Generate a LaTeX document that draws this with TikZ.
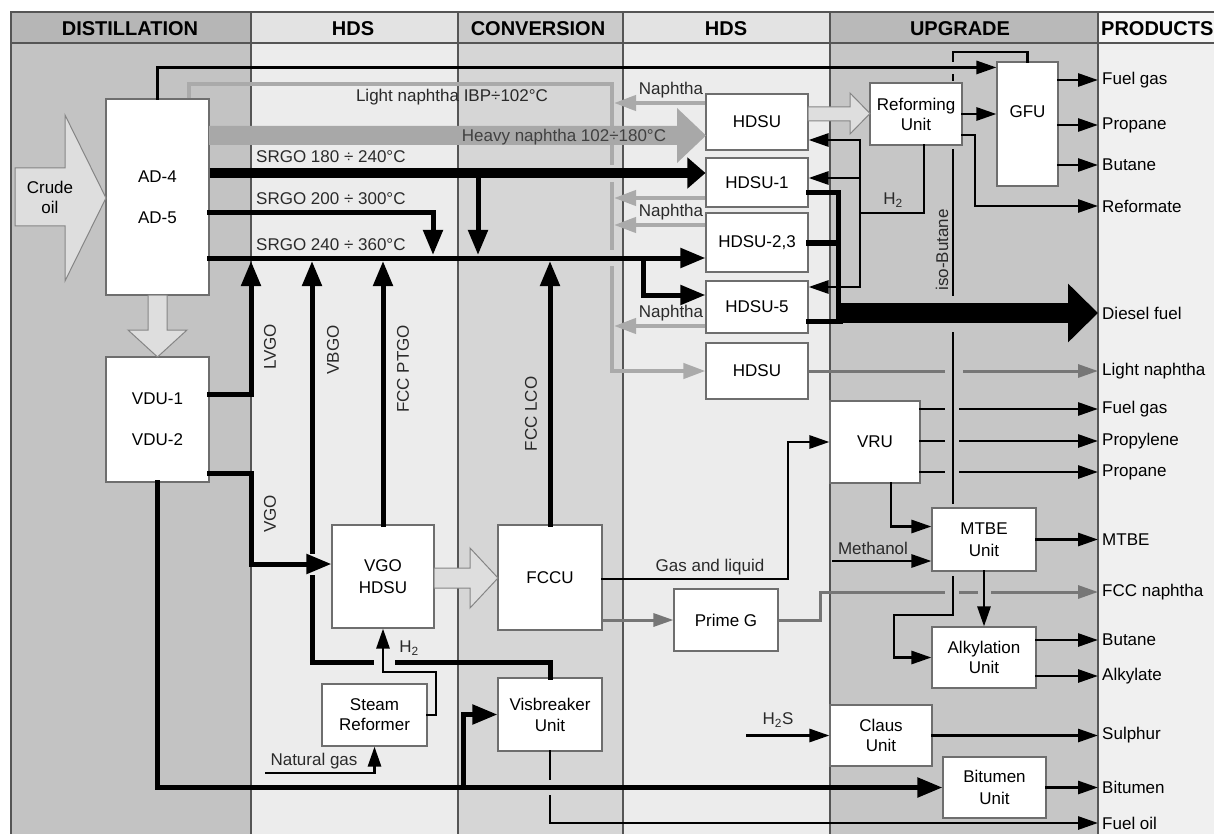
\documentclass[tikz,border=0pt]{standalone}
\usepackage{fontspec}
\setmainfont{Liberation Sans}
\usetikzlibrary{arrows.meta,calc}
\definecolor{cDist}{HTML}{C3C3C3}
\definecolor{cDistH}{HTML}{B6B6B6}
\definecolor{cHds}{HTML}{ECECEC}
\definecolor{cHdsH}{HTML}{E3E3E3}
\definecolor{cConv}{HTML}{D6D6D6}
\definecolor{cConvH}{HTML}{CBCBCB}
\definecolor{cUpg}{HTML}{C6C6C6}
\definecolor{cUpgH}{HTML}{B9B9B9}
\definecolor{cProd}{HTML}{F0F0F0}
\definecolor{cProdH}{HTML}{F6F6F6}
\definecolor{framec}{HTML}{555555}
\definecolor{boxline}{HTML}{6E6E6E}
\definecolor{lgrey}{HTML}{AAAAAA}
\definecolor{dgrey}{HTML}{767676}
\definecolor{hollow}{HTML}{DEDEDE}
\definecolor{hollowline}{HTML}{858585}
\definecolor{heavy}{HTML}{A8A8A8}
\definecolor{txt}{HTML}{2A2A2A}
\definecolor{hvtxt}{HTML}{404040}
\newcommand\lblfont{\fontsize{17}{20}\selectfont}
\newcommand\hdrfont{\fontsize{20}{22}\selectfont\bfseries}
\begin{document}
\begin{tikzpicture}[x=1pt,y=-1pt,line join=miter,
  box/.style={draw=boxline,fill=white,line width=1.1pt,inner sep=0pt,align=center,font=\lblfont,text=black},
  lbl/.style={font=\lblfont,text=txt,inner sep=1pt,align=center},
  hdr/.style={font=\hdrfont,text=black,inner sep=0pt},
  prod/.style={font=\lblfont,text=black,anchor=west,inner xsep=4pt,inner ysep=1pt},
  tline/.style={line width=2.8pt,draw=black,line cap=rect},
  tarrow/.style={tline,-{Triangle[length=20pt,width=13pt]}},
  mline/.style={line width=5pt,draw=black,line cap=rect},
  marrow/.style={mline,-{Triangle[length=25pt,width=19pt]}},
  gline/.style={line width=4pt,draw=lgrey},
  garrow/.style={gline,-{Triangle[length=22pt,width=15pt]}},
  dline/.style={line width=3pt,draw=dgrey},
  darrow/.style={dline,-{Triangle[length=20pt,width=13pt]}},
  hollowarrow/.style={fill=hollow,draw=hollowline,line width=1pt}]
\useasboundingbox (0,0) rectangle (1214,834);
\fill[white] (0,0) rectangle (1214,834);
% columns
\fill[cDist] (11,43) rectangle (251,834);
\fill[cDistH] (11,12) rectangle (251,43);
\fill[cHds] (251,43) rectangle (458,834);
\fill[cHdsH] (251,12) rectangle (458,43);
\fill[cConv] (458,43) rectangle (623,834);
\fill[cConvH] (458,12) rectangle (623,43);
\fill[cHds] (623,43) rectangle (830,834);
\fill[cHdsH] (623,12) rectangle (830,43);
\fill[cUpg] (830,43) rectangle (1098,834);
\fill[cUpgH] (830,12) rectangle (1098,43);
\fill[cProd] (1098,43) rectangle (1214,834);
\fill[cProdH] (1098,12) rectangle (1214,43);
\draw[framec,line width=1.2pt] (11,834) -- (11,12) -- (1214,12);
\draw[framec,line width=1.2pt] (11,43) -- (1214,43);
\foreach \xx in {251,458,623,830,1098} \draw[framec,line width=1.1pt] (\xx,12) -- (\xx,834);
% headers
\node[hdr] (h1) at (130,29) {DISTILLATION};
\node[hdr] (h2) at (353,29) {HDS};
\node[hdr] (h3) at (538,29) {CONVERSION};
\node[hdr] (h4) at (726,29) {HDS};
\node[hdr] (h5) at (960,29) {UPGRADE};
\node[hdr,anchor=west] (h6) at (1101,29) {PRODUCTS};
% helper levels
\coordinate (y173) at (0,173);
\coordinate (y213) at (0,213);
\coordinate (y258) at (0,258);
\coordinate (y261) at (0,261);
\coordinate (y295) at (0,295);
\coordinate (y394) at (0,394);
\coordinate (y473) at (0,473);
\coordinate (y564) at (0,564);
\coordinate (y579) at (0,579);
\coordinate (y561) at (0,561);
\coordinate (y193) at (0,193);
\coordinate (y243) at (0,243);
\coordinate (y321) at (0,321);
\coordinate (y103) at (0,103);
\coordinate (y198) at (0,198);
\coordinate (y225) at (0,225);
\coordinate (y326) at (0,326);
\coordinate (nx) at (614,0);
\coordinate (gL) at (944,0);
\coordinate (gR) at (960,0);
% units
\node[box,minimum width=103pt,minimum height=196pt] (ad) at (157.5,197) {AD-4\\[21pt]AD-5};
\node[box,minimum width=103pt,minimum height=125pt] (vdu) at (157.5,419.5) {VDU-1\\[21pt]VDU-2};
\node[box,minimum width=102pt,minimum height=103pt] (vgo) at (383,576.5) {VGO\\[2pt]HDSU};
\node[box,minimum width=104pt,minimum height=105pt] (fccu) at (550,577.5) {FCCU};
\node[box,minimum width=104pt,minimum height=73pt] (visb) at (550,714.5) {Visbreaker\\[1pt]Unit};
\node[box,minimum width=105pt,minimum height=62pt] (steam) at (374.5,715) {Steam\\Reformer};
\node[box,minimum width=104pt,minimum height=62pt] (primeg) at (726,620) {Prime G};
\node[box,minimum width=102pt,minimum height=56pt] (hdsuA) at (757,122) {HDSU};
\node[box,minimum width=102pt,minimum height=49pt] (hdsu1) at (757,182.5) {HDSU-1};
\node[box,minimum width=102pt,minimum height=59pt] (hdsu23) at (757,242.5) {HDSU-2,3};
\node[box,minimum width=102pt,minimum height=52pt] (hdsu5) at (757,307) {HDSU-5};
\node[box,minimum width=102pt,minimum height=56pt] (hdsuB) at (757,371) {HDSU};
\node[box,minimum width=92pt,minimum height=62pt] (reform) at (916,114) {Reforming\\Unit};
\node[box,minimum width=61pt,minimum height=124pt] (gfu) at (1027.5,124) {GFU\\[-1pt]\strut};
\node[box,minimum width=90pt,minimum height=82pt] (vru) at (875,442) {VRU};
\node[box,minimum width=104pt,minimum height=63pt] (mtbe) at (984,539.5) {MTBE\\[2pt]Unit};
\node[box,minimum width=104pt,minimum height=61pt] (alky) at (984,657.5) {Alkylation\\Unit};
\node[box,minimum width=102pt,minimum height=61pt] (claus) at (881,735.5) {Claus\\Unit};
\node[box,minimum width=103pt,minimum height=61pt] (bitumen) at (994.5,787.5) {Bitumen\\[2pt]Unit};
% product labels
\node[prod] (pFG1) at (1098,80) {Fuel gas};
\node[prod] (pPr1) at (1098,125) {Propane};
\node[prod] (pBu1) at (1098,165) {Butane};
\node[prod] (pRef) at (1098,206) {Reformate};
\node[prod] (pDiesel) at (1098,313) {Diesel fuel};
\node[prod] (pLN) at (1098,371) {Light naphtha};
\node[prod] (pFG2) at (1098,409) {Fuel gas};
\node[prod] (pPropy) at (1098,441) {Propylene};
\node[prod] (pPr2) at (1098,472) {Propane};
\node[prod] (pMTBE) at (1098,539.5) {MTBE};
\node[prod] (pFCCN) at (1098,592) {FCC naphtha};
\node[prod] (pBu2) at (1098,640) {Butane};
\node[prod] (pAlk) at (1098,676) {Alkylate};
\node[prod] (pSul) at (1098,735.5) {Sulphur};
\node[prod] (pBit) at (1098,787.5) {Bitumen};
\node[prod] (pFO) at (1098,823) {Fuel oil};
% hollow arrows
\filldraw[hollowarrow] (15,168) -- (65,168) -- (65,115) -- (106,198) -- (65,281) -- (65,226) -- (15,226) -- cycle;
\node[lbl,text=black] (crude) at (50,197) {Crude\\oil};
\filldraw[hollowarrow] (148,295) -- (148,330) -- (128,330) -- (157.5,357) -- (187,330) -- (167,330) -- (167,295) -- cycle;
\filldraw[hollowarrow] (434,568) -- (470,568) -- (470,548) -- (498,578) -- (470,608) -- (470,588) -- (434,588) -- cycle;
\filldraw[hollowarrow] (808,107) -- (850,107) -- (850,93) -- (870,113.5) -- (850,134) -- (850,121) -- (808,121) -- cycle;
% light naphtha (grey)
\coordinate (lnA) at (612,84);
\draw[gline] ($(ad.north)+(31,0)$) |- (lnA) -- (612,165);
\draw[gline] (612,182) -- (612,250);
\draw[garrow] (612,266) |- (hdsuB.west);
\node[lbl] at (452,97) {Light naphtha IBP÷102°C};
% naphtha returns
\draw[garrow] (hdsuA.west |- y103) -- (nx |- y103);
\draw[garrow] (hdsu1.west |- y198) -- (nx |- y198);
\draw[garrow] (hdsu23.west |- y225) -- (nx |- y225);
\draw[garrow] (hdsu5.west |- y326) -- (nx |- y326);
\node[lbl] at (671,90) {Naphtha};
\node[lbl] at (671,212) {Naphtha};
\node[lbl] at (671,313) {Naphtha};
% heavy naphtha
\fill[heavy] (209,126) -- (677,126) -- (677,108) -- (706,135.5) -- (677,163) -- (677,145) -- (209,145) -- cycle;
\node[lbl,text=hvtxt] at (564,137) {Heavy naphtha 102÷180°C};
% top fuel gas line
\draw[tarrow] (ad.north) |- ($(gfu.north west)+(0,6)$);
% SRGO lines
\draw[line width=10pt,-{Triangle[length=18pt,width=30pt]}] (ad.east |- y173) -- (hdsu1.west |- y173);
\coordinate (b1) at (478,173);
\draw[marrow] (b1) -- (478,255);
\draw[marrow] (ad.east |- y213) -| (433,255);
\draw[marrow] (ad.east |- y258) -- (hdsu23.west |- y258);
\coordinate (b2) at (643,258);
\draw[marrow] (b2) |- (hdsu5.west |- y295);
\node[lbl,anchor=west] at (255,157) {SRGO 180 ÷ 240°C};
\node[lbl,anchor=west] at (255,199) {SRGO 200 ÷ 300°C};
\node[lbl,anchor=west] at (255,245) {SRGO 240 ÷ 360°C};
% gas oils up
\draw[marrow] (vdu.east |- y394) -| (251,261);
\draw[marrow] (vdu.east |- y473) -| (251,564) -- (vgo.west |- y564);
\draw[mline] (visb.north) |- (397,662);
\draw[mline] (371,662) -| (312,577);
\draw[marrow] (312,551) -- (312,261);
\draw[marrow] (vgo.north) -- (vgo.north |- y261);
\draw[marrow] (fccu.north) -- (fccu.north |- y261);
\node[lbl,rotate=90] at (270,347) {LVGO};
\node[lbl,rotate=90] at (333,350) {VBGO};
\node[lbl,rotate=90] at (403,369) {FCC PTGO};
\node[lbl,rotate=90] at (531,414) {FCC LCO};
\node[lbl,rotate=90] at (270,514) {VGO};
% hydrogen to VGO HDSU, natural gas
\coordinate (h2c) at (436,672);
\draw[tarrow] (steam.east) -| (h2c) -| (vgo.south);
\node[lbl] at (409,648) {H\textsubscript{2}};
\coordinate (ng) at (266,773);
\draw[tarrow] (ng) -| (steam.south);
\node[lbl] at (314,761) {Natural gas};
% residue lines
\draw[marrow] (vdu.south) |- (bitumen.west);
\coordinate (b3) at (463,787.5);
\draw[marrow] (b3) |- (visb.west);
\draw[tline] (visb.south) -- (550,779);
\draw[tarrow] (550,796) |- (pFO.west);
% FCCU outputs
\draw[darrow] (fccu.east |- primeg.west) -- (primeg.west);
\coordinate (gl) at (788,442);
\draw[tarrow] (fccu.east |- y579) -| (gl) -- (vru.west);
\node[lbl] at (710,567) {Gas and liquid};
\draw[dline] (primeg.east) -| (820,592) -- (945,592);
\draw[dline] (959,592) -- (978,592);
\draw[darrow] (991,592) -- (pFCCN.west);
% VRU outputs
\draw[tline] (vru.east |- pFG2.west) -- (gL |- pFG2.west);
\draw[tarrow] (gR |- pFG2.west) -- (pFG2.west);
\draw[tline] (vru.east |- pPropy.west) -- (gL |- pPropy.west);
\draw[tarrow] (gR |- pPropy.west) -- (pPropy.west);
\draw[tline] (vru.east |- pPr2.west) -- (gL |- pPr2.west);
\draw[tarrow] (gR |- pPr2.west) -- (pPr2.west);
\draw[tarrow] ($(vru.south)+(16,0)$) |- ($(mtbe.west)+(0,-13)$);
\coordinate (meth) at (833,561);
\draw[tarrow] (meth) -- (mtbe.west |- y561);
\node[lbl] at (873,548) {Methanol};
\draw[tarrow] (mtbe.east) -- (pMTBE.west);
\draw[tarrow] (mtbe.south) -- (alky.north);
\draw[tarrow] (alky.east |- pBu2.west) -- (pBu2.west);
\draw[tarrow] (alky.east |- pAlk.west) -- (pAlk.west);
% Claus, bitumen
\coordinate (h2s) at (747,735.5);
\draw[tarrow] (h2s) -- (claus.west);
\node[lbl] at (778,720) {H\textsubscript{2}S};
\draw[tarrow] (claus.east) -- (pSul.west);
\draw[tarrow] (bitumen.east) -- (pBit.west);
% iso-butane
\draw[tline] (gfu.north) |- (953,52) -- (953,61);
\draw[tline] (953,75) -- (953,80);
\draw[tline] (953,150) -- (953,295);
\draw[tline] (953,333) -- (953,503);
\draw[tarrow] (953,577) -- (953,615) -| (894,657.5) -- (alky.west);
\node[lbl,rotate=90] at (942,250) {iso-Butane};
% reforming & GFU
\draw[tarrow] (reform.east) -- (reform.east -| gfu.west);
\coordinate (rf) at (975,206);
\draw[tarrow] ($(reform.east)+(0,21)$) -| (rf) -- (pRef.west);
\draw[tarrow] (gfu.east |- pFG1.west) -- (pFG1.west);
\draw[tarrow] (gfu.east |- pPr1.west) -- (pPr1.west);
\draw[tarrow] (gfu.east |- pBu1.west) -- (pBu1.west);
% hydrogen distribution
\coordinate (h2t) at (860,140);
\coordinate (h2m) at (860,178);
\coordinate (h2b) at (860,287);
\coordinate (h2j) at (860,213);
\draw[tline] ($(reform.south)+(8,0)$) |- (h2j);
\draw[tline] (h2t) -- (h2b);
\draw[tarrow] (h2t) -- (hdsuA.east |- h2t);
\draw[tarrow] (h2m) -- (hdsu1.east |- h2m);
\draw[tarrow] (h2b) -- (hdsu5.east |- h2b);
\node[lbl] at (893,200) {H\textsubscript{2}};
% diesel
\draw[mline] (hdsu1.east |- y193) -| (838,305);
\draw[mline] (hdsu23.east |- y243) -- (838,243);
\draw[mline] (hdsu5.east |- y321) -- (840,321);
\coordinate (dst) at (836,313);
\draw[line width=20pt,-{Triangle[length=30pt,width=57pt]}] (dst) -- (pDiesel.west);
% light naphtha product
\draw[dline] (hdsuB.east) -- (945,371);
\draw[darrow] (963,371) -- (pLN.west);
\end{tikzpicture}
\end{document}
